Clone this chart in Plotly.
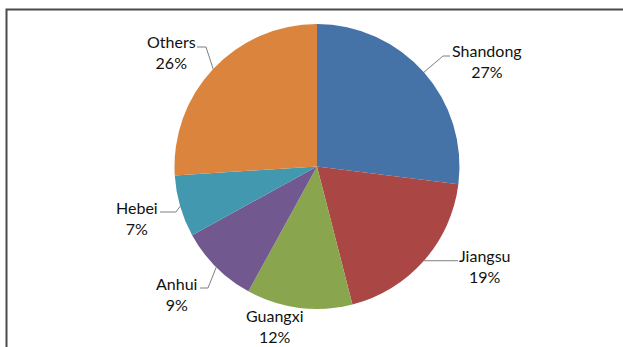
import math
import plotly.graph_objects as go

# Share of total by province
provinces = ["Shandong", "Jiangsu", "Guangxi", "Anhui", "Hebei", "Others"]
shares = [27, 19, 12, 9, 7, 26]
colors = ["#4572A7", "#AA4643", "#89A54E", "#71588F", "#4198AF", "#DB843D"]

W, H = 623, 347
CX, CY, R = 317.0, 166.5, 142.5

# Label block centres (px) and leader-line bends (px): elbow, end point
label_pos = {
    "Shandong": (487, 61),
    "Jiangsu": (485, 266),
    "Guangxi": (274, 326),
    "Anhui": (176, 294),
    "Hebei": (137, 218),
    "Others": (171, 52),
}
leader = {
    "Shandong": [(443, 56), (450, 56)],
    "Jiangsu": [(458, None)],
    "Guangxi": None,
    "Anhui": [(208, 288), (200, 288)],
    "Hebei": [(176, 212), (160, 212)],
    "Others": [(206, 47), (197, 47)],
}


def px(x):
    return x / W


def py(y):
    return 1 - y / H


fig = go.Figure(
    go.Pie(
        labels=provinces,
        values=shares,
        sort=False,
        direction="clockwise",
        rotation=0,
        marker=dict(colors=colors, line=dict(width=0)),
        textinfo="none",
        hoverinfo="label+percent",
        showlegend=False,
        domain=dict(x=[px(CX - R), px(CX + R)], y=[py(CY + R), py(CY - R)]),
    )
)

total = sum(shares)
shapes = []
annotations = []
cum = 0.0
for name, val in zip(provinces, shares):
    mid = (cum + val / 2) / total * 2 * math.pi
    cum += val
    ex = CX + R * math.sin(mid)
    ey = CY - R * math.cos(mid)
    pts = leader[name]
    if pts:
        path = f"M {px(ex)},{py(ey)}"
        for (x, y) in pts:
            y = ey if y is None else y
            path += f" L {px(x)},{py(y)}"
        shapes.append(dict(type="path", xref="paper", yref="paper", path=path,
                           line=dict(color="#7f7f7f", width=1)))
    lx, ly = label_pos[name]
    annotations.append(dict(
        x=px(lx), y=py(ly), xref="paper", yref="paper",
        text=f"{name}<br>{round(val / total * 100)}%",
        showarrow=False, xanchor="center", yanchor="middle", align="center",
        font=dict(family="Lato, Carlito, sans-serif", size=16, color="#111111"),
    ))

# Frame lines along the top and left edges
shapes.append(dict(type="path", xref="paper", yref="paper",
                   path=f"M {px(6.5)},0 L {px(6.5)},{py(9.5)} L 1,{py(9.5)}",
                   line=dict(color="#4a4a4a", width=2)))

fig.update_layout(
    width=W, height=H, autosize=False,
    margin=dict(l=0, r=0, t=0, b=0),
    paper_bgcolor="white", plot_bgcolor="white",
    shapes=shapes, annotations=annotations,
)

fig.write_html("out.html")
